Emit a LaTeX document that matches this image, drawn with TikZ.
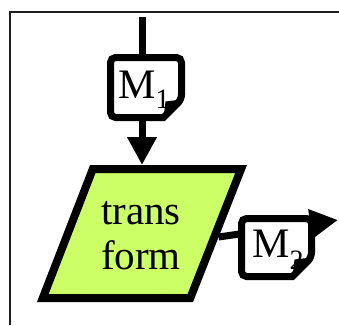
\documentclass[tikz,border=0pt]{standalone}
\usepackage{fontspec}
\setmainfont{Liberation Serif}
\usetikzlibrary{arrows.meta}
\definecolor{tfgreen}{RGB}{204,255,102}
\definecolor{framegray}{RGB}{30,30,30}
\tikzset{
  conn/.style={line width=7pt, draw=black},
  tipconn/.style={conn, -{Triangle[length=28pt,width=28pt]}},
  docbox/.style={line width=7pt, draw=black, fill=white, rounded corners=5pt},
  lbl/.style={inner sep=0pt, font=\fontsize{41}{45}\selectfont},
  mlbl/.style={inner sep=0pt, font=\fontsize{42}{45}\selectfont}
}
\newcommand{\docshape}[5]{% x1 y1 x2 y2 cut
  \draw[docbox] (#1,#2) -- (#3,#2) -- (#3,#4-#5) [sharp corners] -- (#3-#5,#4) [rounded corners=5pt] -- (#1,#4) -- cycle;
  \fill[black] (#3,#4-#5) -- (#3-#5,#4) -- (#3-#5+2,#4-#5+2) -- cycle;
}
\begin{document}
\begin{tikzpicture}[x=1pt,y=-1pt]
\useasboundingbox (0,0) rectangle (339,325);
% outer frame
\draw[framegray, line width=1.5pt] (10,325) -- (10,12) -- (339,12);
% coordinates / nodes
\coordinate (top) at (142,17);
\node[minimum width=71pt, minimum height=60pt, inner sep=0pt] (m1) at (146,87.5) {};
\coordinate (m1n) at (142,57.5);
\coordinate (m1s) at (142,117.5);
\coordinate (tfn) at (142,165);
\coordinate (tfe) at (218.6,237);
\coordinate (out) at (338,220);
% parallelogram
\draw[line width=8pt, fill=tfgreen, line join=miter] (92.8,169) -- (241.1,169) -- (190.3,298) -- (42.8,298) -- cycle;
\node[lbl, align=center] (tf) at (141,236) {trans\\form};
% connectors
\draw[conn] (top) -- (m1n);
\draw[tipconn] (m1s) -- (tfn);
\draw[tipconn] (tfe) -- (out);
% document boxes
\docshape{110.5}{57.5}{181.5}{117.5}{18}
\docshape{241.5}{218.5}{311.5}{276.5}{19}
\node[mlbl, anchor=base west] (m1l) at (118,98) {M\raisebox{-10pt}{\fontsize{28}{28}\selectfont 1}};
\node[mlbl, anchor=base west] (m2l) at (252,257) {M\raisebox{-12pt}{\fontsize{28}{28}\selectfont 2}};
\end{tikzpicture}
\end{document}
